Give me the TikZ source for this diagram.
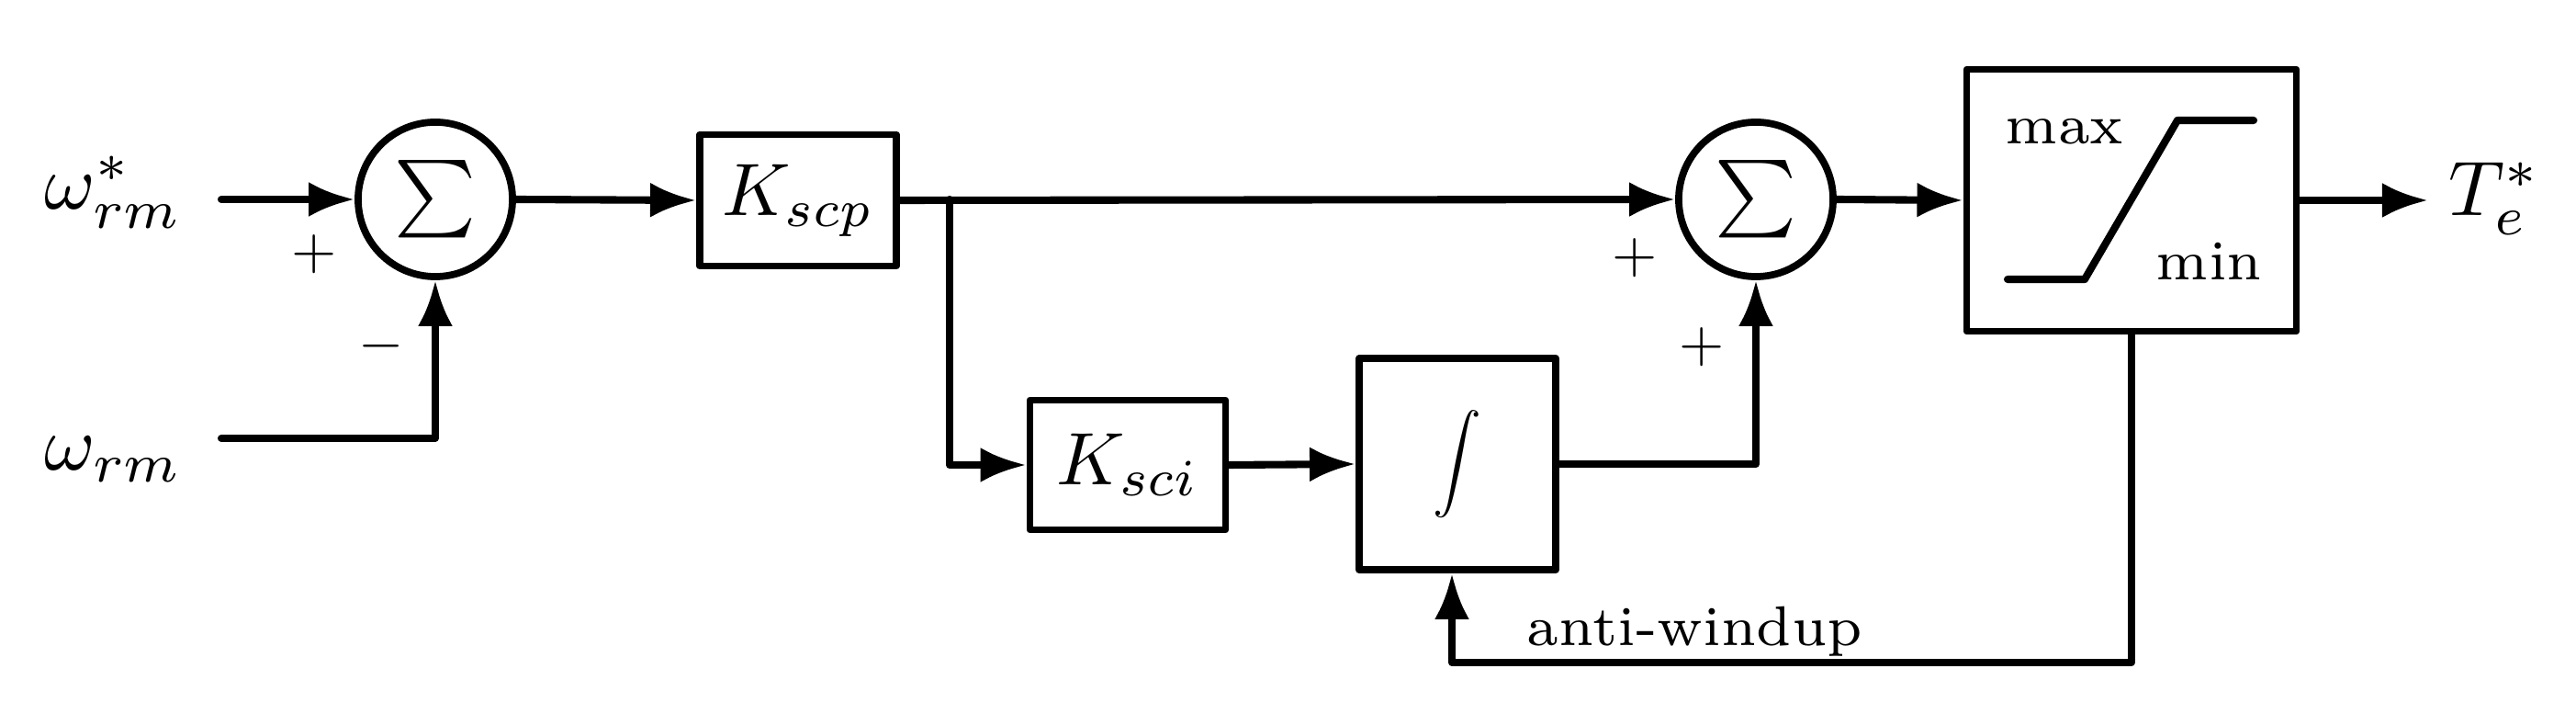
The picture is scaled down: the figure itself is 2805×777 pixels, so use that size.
\documentclass[tikz,border=0pt]{standalone}
\usepackage{graphicx}
\usetikzlibrary{arrows.meta}
\newcommand\smalltxt[1]{\scalebox{2.48}{\fontsize{7}{8}\selectfont #1}}
\begin{document}
\begin{tikzpicture}[x=0.01cm,y=-0.01cm,
  conn/.style={line width=2.3pt, line join=round, line cap=round},
  arr/.style={-{Latex[length=0.5cm,width=0.38cm]}},
  blk/.style={draw, line width=2.2pt, line join=round, rectangle, inner sep=0pt},
  sumc/.style={draw, circle, line width=2.2pt, minimum size=1.68cm, inner sep=0pt},
  lbl/.style={inner sep=0pt, anchor=base west},
  sgn/.style={inner sep=0pt}]
\fill[white] (0,0) rectangle (2805,777);
\useasboundingbox (0,0) rectangle (2805,777);

% blocks
\node[sumc] (s1) at (474,217) {\scalebox{2.4}{$\sum$}};
\node[blk, minimum width=2.14cm, minimum height=1.43cm] (kp) at (869,218) {\scalebox{2.3}{$K_{scp}$}};
\node[blk, minimum width=2.13cm, minimum height=1.41cm] (ki) at (1228,506) {\scalebox{2.3}{$K_{sci}$}};
\node[blk, minimum width=2.14cm, minimum height=2.30cm] (int) at (1587,505) {\scalebox{1.5}{$\displaystyle\int$}};
\node[sumc] (s2) at (1912,217) {\scalebox{2.4}{$\sum$}};
\node[blk, minimum width=3.59cm, minimum height=2.85cm] (sat) at (2321,218) {};

% saturation characteristic
\draw[conn] (2186,304) -- (2270,304) -- (2371,131) -- (2454,131);

% labels
\node[lbl] (wref) at (48,228) {\scalebox{2.4}{$\omega^*_{rm}$}};
\node[lbl] (wm) at (48,512) {\scalebox{2.4}{$\omega_{rm}$}};
\node[lbl] (te) at (2666,235) {\scalebox{2.4}{$T^*_e$}};
\node[lbl] (mx) at (2183,157) {\smalltxt{max}};
\node[lbl] (mn) at (2347,305) {\smalltxt{min}};
\node[lbl] (aw) at (1662,703) {\smalltxt{anti-windup}};

% signs
\node[sgn] (p1) at (342,277) {\scalebox{1.8}{$+$}};
\node[sgn] (m1) at (415,377) {\scalebox{1.8}{$-$}};
\node[sgn] (p2) at (1780,281) {\scalebox{1.8}{$+$}};
\node[sgn] (p3) at (1853,378) {\scalebox{1.8}{$+$}};

% free ends
\coordinate (in1) at (241,217);
\coordinate (in2) at (241,477);
\coordinate (br) at (1034,217);
\coordinate (out) at (2644,218);
\coordinate (awL) at (1581,721);

% connectors
\draw[conn,arr] (in1) -- (s1.west);
\draw[conn,arr] (in2) -| (s1.south);
\draw[conn,arr] (s1.east) -- (kp.west);
\draw[conn,arr] (kp.east) -- (s2.west);
\draw[conn,arr] (br) |- (ki.west);
\draw[conn,arr] (ki.east) -- (int.west);
\draw[conn,arr] (int.east) -| (s2.south);
\draw[conn,arr] (s2.east) -- (sat.west);
\draw[conn,arr] (sat.east) -- (out);
\draw[conn,arr] (sat.south) |- (awL) -- (int.south -| awL);
\end{tikzpicture}
\end{document}
